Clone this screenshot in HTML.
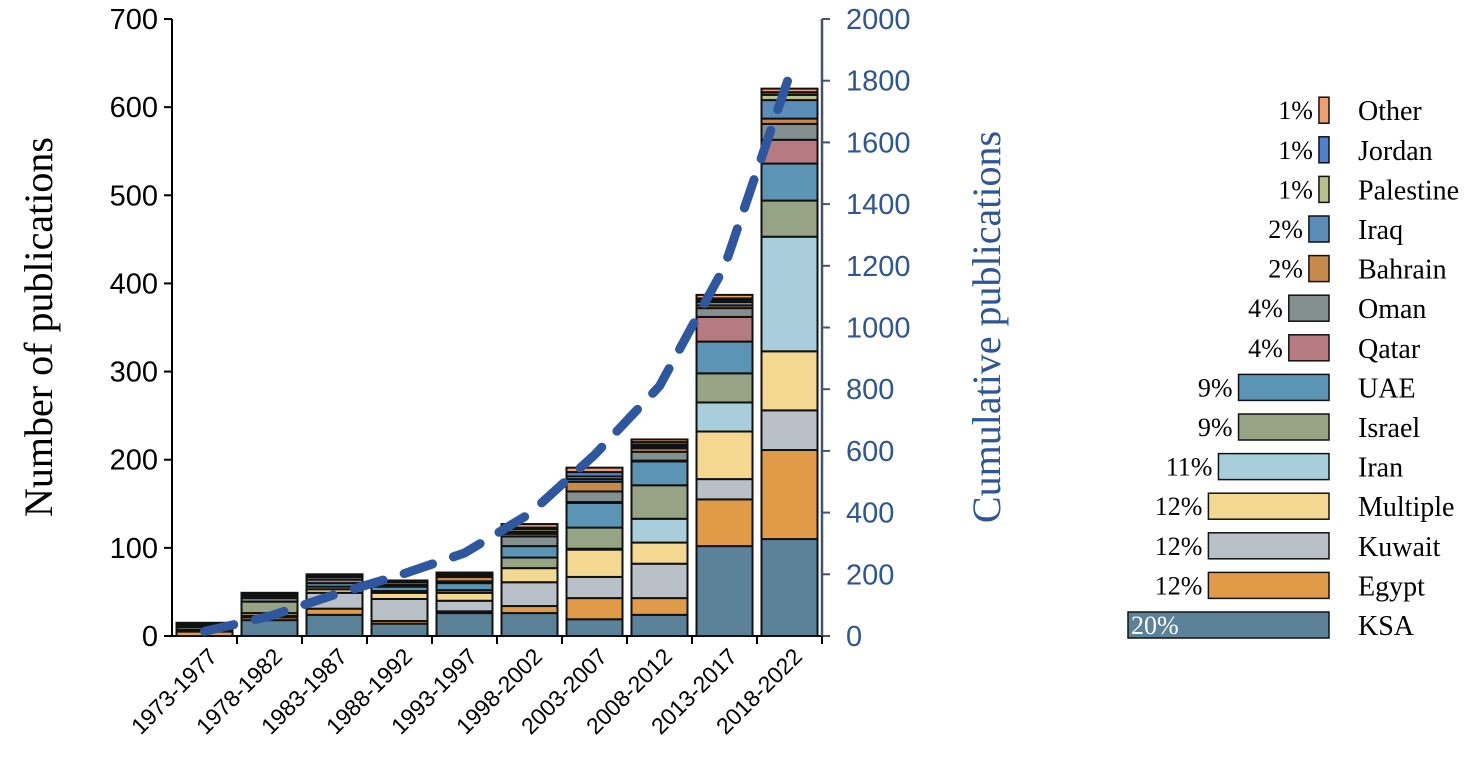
<!DOCTYPE html>
<html><head><meta charset="utf-8">
<style>
html,body{margin:0;padding:0;background:#fff;}
svg{display:block;}
</style></head>
<body>
<svg id="chart" width="1477" height="780" viewBox="0 0 1477 780" xmlns="http://www.w3.org/2000/svg">
<g id="axes"></g><g id="bars"></g><g id="line"></g><g id="legend"></g>
</svg>
<script>
const categories = ["1973-1977","1978-1982","1983-1987","1988-1992","1993-1997","1998-2002","2003-2007","2008-2012","2013-2017","2018-2022"];
const seriesNames = ["KSA","Egypt","Kuwait","Multiple","Iran","Israel","UAE","Qatar","Oman","Bahrain","Iraq","Palestine","Jordan","Other"];
const KSA      = [0,18,24,14,26,26,19,24,102,110];
const Egypt    = [5,3,7,3,2,8,24,19,53,101];
const Kuwait   = [0,2,18,25,12,27,24,39,23,45];
const Multiple = [2,3,4,7,9,16,31,24,54,67];
const Iran     = [0,0,0,0,0,0,1,27,33,130];
const Israel   = [3,13,3,2,3,12,24,38,33,41];
const UAE      = [1,0,4,5,8,13,28,27,36,42];
const Qatar    = [0,0,4,0,0,0,1,1,28,27];
const Oman     = [2,4,3,2,2,11,12,10,10,18];
const Bahrain  = [2,2,2,3,5,3,11,4,3,6];
const Iraq     = [0,2,0,0,2,2,3,2,4,21];
const Palestine= [0,0,0,0,0,3,3,2,2,6];
const Jordan   = [0,2,0,0,2,2,5,3,2,3];
const Other    = [0,0,1,2,1,4,5,3,4,4];
const seriesValues = [KSA,Egypt,Kuwait,Multiple,Iran,Israel,UAE,Qatar,Oman,Bahrain,Iraq,Palestine,Jordan,Other];
const legendPercents = [20,12,12,12,11,9,9,4,4,2,2,1,1,1];
const leftTicks = [0,100,200,300,400,500,600,700];
const rightTicks = [0,200,400,600,800,1000,1200,1400,1600,1800,2000];

const colors = ["#5b8299","#e09a48","#b9c0c7","#f4d892","#a8cedc","#96a485","#5b94b5","#b57b80","#848f90","#c88a4a","#5a8db8","#b8c08c","#4f7fd0","#f0a070"];
const NS="http://www.w3.org/2000/svg";
function mk(tag,attrs,parent,text){const e=document.createElementNS(NS,tag);for(const k in attrs)e.setAttribute(k,attrs[k]);if(text!==undefined)e.textContent=text;parent.appendChild(e);return e;}
const x0=172,x1=822,y0=636,yTop=19;
const yL=v=>y0-(v/700)*(y0-yTop);
const yR=v=>y0-(v/2000)*(y0-yTop);
const band=(x1-x0)/categories.length;
const xC=i=>x0+band*(i+0.5);
const bw=56;

const axes=document.getElementById('axes');
let a=mk('line',{x1:x0,y1:yTop,x2:x0,y2:y0,stroke:'#000','stroke-width':2},axes);

a=mk('line',{x1:x0,y1:y0,x2:x1,y2:y0,stroke:'#000','stroke-width':2},axes);

a=mk('line',{x1:x1,y1:yTop,x2:x1,y2:y0,stroke:'#44546a','stroke-width':2.5},axes);

leftTicks.forEach(v=>{
  mk('line',{x1:x0-8,x2:x0,y1:yL(v),y2:yL(v),stroke:'#000','stroke-width':2},axes);
  const t=mk('text',{x:x0-14,y:yL(v)+10,'text-anchor':'end','font-family':'Liberation Sans, sans-serif','font-size':29,fill:'#000'},axes,v);
  
});
rightTicks.forEach(v=>{
  mk('line',{x1:x1,x2:x1+8,y1:yR(v),y2:yR(v),stroke:'#44546a','stroke-width':2},axes);
  const t=mk('text',{x:x1+24,y:yR(v)+10,'font-family':'Liberation Sans, sans-serif','font-size':29,fill:'#2e5597'},axes,v);
  
});
categories.forEach((c,i)=>{
  mk('line',{x1:x0+band*(i+1),x2:x0+band*(i+1),y1:y0,y2:y0+8,stroke:'#000','stroke-width':2},axes);
  const t=mk('text',{x:0,y:0,'text-anchor':'end','font-family':'Liberation Sans, sans-serif','font-size':23,fill:'#000',transform:`translate(${xC(i)+14},${y0+22}) rotate(-45)`},axes,c);
  
});
let t=mk('text',{x:0,y:0,'text-anchor':'middle','font-family':'Liberation Serif, serif','font-size':40,fill:'#000',transform:`translate(52,327) rotate(-90)`},axes,'Number of publications');

t=mk('text',{x:0,y:0,'text-anchor':'middle','font-family':'Liberation Serif, serif','font-size':40,fill:'#2e5597',transform:`translate(1000,327) rotate(-90)`},axes,'Cumulative publications');


const bars=document.getElementById('bars');
categories.forEach((c,i)=>{
  let cum=0;
  seriesValues.forEach((arr,s)=>{
    const v=arr[i]; if(v<=0) return;
    const r=mk('rect',{x:xC(i)-bw/2,y:yL(cum+v),width:bw,height:yL(cum)-yL(cum+v),fill:colors[s],stroke:'#111','stroke-width':2},bars);
    
    
    cum+=v;
  });
});

const lineG=document.getElementById('line');
let run=0;const pts=categories.map((c,i)=>{run+=seriesValues.reduce((s,arr)=>s+arr[i],0);return [xC(i),yR(run)];});
const p=mk('polyline',{points:pts.map(q=>q.join(',')).join(' '),fill:'none',stroke:'#2f57a0','stroke-width':9,'stroke-dasharray':'30,22','stroke-linecap':'round'},lineG);


const leg=document.getElementById('legend');
seriesNames.forEach((n,s)=>{
  const yc=625-s*39.6;
  const w=legendPercents[s]*10.05;
  const g=mk('g',{},leg);
  
  
  mk('rect',{x:1329-w,y:yc-13,width:w,height:26,fill:colors[s],stroke:'#111','stroke-width':1.5},g);
  if(s===0){
    mk('text',{x:1131,y:yc+9,'font-family':'Liberation Serif, serif','font-size':26,fill:'#fff'},g,legendPercents[s]+'%');
  } else {
    mk('text',{x:1329-w-6,y:yc+9,'text-anchor':'end','font-family':'Liberation Serif, serif','font-size':26,fill:'#000'},g,legendPercents[s]+'%');
  }
  mk('text',{x:1358,y:yc+10,'font-family':'Liberation Serif, serif','font-size':28,fill:'#000'},g,n);
});
</script>
</body></html>
